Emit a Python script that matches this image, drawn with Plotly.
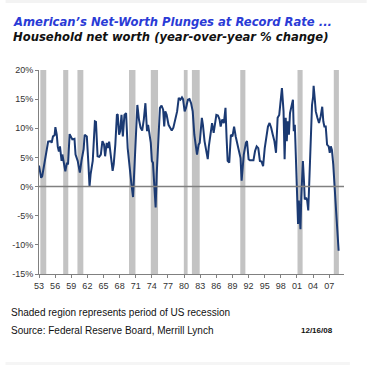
import plotly.graph_objects as go

# Household net worth, year-over-year % change
years = [1953.0, 1953.4, 1953.6, 1954.0, 1954.4, 1954.7, 1955.2, 1955.35, 1955.6, 1955.9, 1956.05, 1956.3,
         1956.5, 1956.7, 1956.9, 1957.2, 1957.35, 1957.6, 1957.9, 1958.2, 1958.4, 1958.7, 1958.95, 1959.2,
         1959.6, 1959.8, 1960.2, 1960.6, 1960.9, 1961.3, 1961.5, 1961.9, 1962.2, 1962.4, 1962.6, 1963.0,
         1963.4, 1963.6, 1963.9, 1964.2, 1964.5, 1964.8, 1965.1, 1965.3, 1965.6, 1965.8, 1966.05, 1966.3,
         1966.7, 1966.9, 1967.2, 1967.5, 1967.65, 1967.9, 1968.1, 1968.35, 1968.6, 1968.9, 1969.2, 1969.5,
         1969.8, 1970.0, 1970.2, 1970.5, 1970.7, 1970.95, 1971.3, 1971.6, 1971.9, 1972.2, 1972.5, 1972.8,
         1973.1, 1973.3, 1973.8, 1974.0, 1974.2, 1974.5, 1974.7, 1974.9, 1975.2, 1975.5, 1975.8, 1976.1,
         1976.3, 1976.5, 1976.75, 1977.1, 1977.4, 1977.7, 1978.0, 1978.4, 1978.7, 1979.0, 1979.3, 1979.6,
         1979.8, 1980.1, 1980.35, 1980.7, 1981.0, 1981.3, 1981.6, 1981.9, 1982.2, 1982.4, 1982.7, 1982.9,
         1983.3, 1983.5, 1983.8, 1984.1, 1984.4, 1984.6, 1984.9, 1985.2, 1985.5, 1985.7, 1986.0, 1986.3,
         1986.6, 1986.8, 1987.1, 1987.4, 1987.7, 1987.9, 1988.1, 1988.4, 1988.7, 1989.0, 1989.3, 1989.6,
         1989.9, 1990.2, 1990.5, 1990.7, 1990.85, 1991.1, 1991.5, 1991.7, 1992.0, 1992.25, 1992.6, 1992.9,
         1993.2, 1993.5, 1993.8, 1994.1, 1994.4, 1994.7, 1995.0, 1995.3, 1995.6, 1995.9, 1996.2, 1996.5,
         1996.8, 1997.1, 1997.4, 1997.7, 1997.9, 1998.2, 1998.5, 1998.7, 1998.9, 1999.1, 1999.3, 1999.5,
         1999.7, 2000.0, 2000.25, 2000.4, 2000.6, 2000.8, 2001.0, 2001.2, 2001.35, 2001.5, 2001.65, 2001.8,
         2002.1, 2002.3, 2002.45, 2002.7, 2002.9, 2003.1, 2003.4, 2003.55, 2003.8, 2004.0, 2004.1, 2004.3,
         2004.5, 2004.8, 2005.1, 2005.4, 2005.7, 2005.9, 2006.1, 2006.35, 2006.6, 2006.9, 2007.1, 2007.3,
         2007.5, 2007.75, 2007.9, 2008.2, 2008.4, 2008.6, 2008.75]
net_worth_yoy = [3.6, 1.5, 1.8, 3.8, 5.8, 7.7, 7.8, 7.5, 8.6, 8.8, 10.2, 8.9,
                 6.8, 6.0, 6.9, 4.4, 5.5, 3.8, 2.6, 4.1, 3.8, 9.0, 8.6, 8.1,
                 8.2, 5.5, 4.4, 2.4, 4.4, 6.4, 8.9, 8.6, 3.8, 0.0, 2.1, 4.4,
                 11.2, 11.1, 5.2, 5.1, 5.5, 7.8, 7.2, 5.2, 7.5, 6.6, 7.7, 6.1,
                 2.7, 3.8, 7.2, 12.4, 12.3, 8.9, 9.5, 12.3, 8.6, 12.3, 12.6, 6.6,
                 3.8, 1.0, 0.4, -1.8, 2.1, 6.6, 14.0, 11.5, 10.1, 9.6, 11.5, 14.3,
                 9.5, 10.6, 7.5, 4.4, 4.1, -0.5, -3.6, 2.1, 8.4, 13.5, 13.9, 13.2,
                 10.3, 12.9, 12.3, 10.6, 10.1, 9.6, 10.1, 11.8, 12.9, 15.2, 14.9, 15.3,
                 15.0, 12.9, 13.5, 14.9, 15.0, 14.3, 12.9, 8.9, 7.2, 5.5, 7.2, 7.5,
                 11.8, 10.6, 7.8, 5.8, 4.7, 6.9, 8.9, 10.9, 9.2, 10.3, 12.3, 12.2,
                 11.5, 10.3, 11.5, 10.9, 13.5, 8.4, 4.4, 4.1, 8.9, 8.6, 10.3, 8.6,
                 7.5, 6.1, 4.9, 1.0, 2.7, 5.5, 7.5, 7.8, 4.7, 4.5, 4.5, 4.5,
                 6.1, 6.9, 6.6, 4.4, 4.3, 3.5, 6.6, 8.4, 10.3, 10.9, 10.1, 8.9,
                 7.8, 5.8, 11.8, 12.3, 14.6, 16.9, 12.9, 4.7, 11.8, 7.8, 11.2, 8.9,
                 12.6, 13.7, 14.9, 9.5, 10.6, 4.9, -0.2, -6.4, -2.4, -5.9, -7.3, -1.9,
                 4.4, 1.0, -2.2, -1.9, -2.4, -4.1, 3.2, 9.5, 14.0, 15.4, 17.3, 15.2,
                 12.9, 11.8, 10.9, 12.0, 13.7, 11.2, 10.3, 10.3, 7.2, 6.9, 5.8, 6.9,
                 6.3, 3.8, 0.7, -3.0, -5.9, -8.1, -11.0]

# Recession periods (shaded)
rec_start = [1953.25, 1957.5, 1960.15, 1969.75, 1973.8, 1979.95, 1981.45, 1990.45, 2001.1, 2007.85]
rec_end = [1954.35, 1958.45, 1961.25, 1970.95, 1975.15, 1980.65, 1982.9, 1991.4, 2002.05, 2008.8]

tick_years = list(range(1953, 2008, 3))
tick_labels = ["%02d" % (y % 100) for y in tick_years]
y_ticks = [-15, -10, -5, 0, 5, 10, 15, 20]
y_labels = ["%d%%" % v for v in y_ticks]

fig = go.Figure()

shapes = []
for s, e in zip(rec_start, rec_end):
    shapes.append(dict(type="rect", xref="x", yref="y", x0=s, x1=e, y0=-15, y1=20,
                       fillcolor="#c3c3c3", line=dict(width=0), layer="below"))
# zero line
shapes.append(dict(type="line", xref="paper", yref="y", x0=0, x1=1, y0=0, y1=0,
                   line=dict(color="#808080", width=1.5), layer="above"))
# faint page bands
shapes.append(dict(type="rect", xref="paper", yref="paper", x0=-34/310, x1=333/310,
                   y0=1 + 67/204, y1=1 + 70/204, fillcolor="#f3f3f3", line=dict(width=0)))
shapes.append(dict(type="rect", xref="paper", yref="paper", x0=-34/310, x1=316/310,
                   y0=-91/204, y1=-88/204, fillcolor="#f5f5f5", line=dict(width=0)))

fig.add_trace(go.Scatter(x=years, y=net_worth_yoy, mode="lines",
                         line=dict(color="#1b3a73", width=2), hoverinfo="skip"))

fig.update_layout(
    width=384, height=374,
    margin=dict(l=34, r=40, t=70, b=100),
    paper_bgcolor="white", plot_bgcolor="white",
    showlegend=False,
    shapes=shapes,
    xaxis=dict(range=[1953, 2009.75], tickvals=tick_years, ticktext=tick_labels,
               showgrid=False, zeroline=False, showline=True, linecolor="#808080", linewidth=1,
               ticks="outside", ticklen=3, tickcolor="#808080",
               tickfont=dict(family="Liberation Sans, Arial", size=9, color="#333333")),
    yaxis=dict(range=[-15, 20], tickvals=y_ticks, ticktext=y_labels,
               showgrid=False, zeroline=False, showline=True, linecolor="#808080", linewidth=1,
               ticks="outside", ticklen=3, tickcolor="#808080",
               tickfont=dict(family="Liberation Sans, Arial", size=9, color="#333333")),
    annotations=[
        dict(text="<b><i>American\u2019s Net-Worth Plunges at Record Rate ...</i></b>",
             xref="paper", yref="paper", x=-28/310, y=1 + 48/204, xanchor="left", yanchor="middle",
             showarrow=False, font=dict(family="DejaVu Sans", size=11.6, color="#2a3bd6")),
        dict(text="<b><i>Household net worth (year-over-year % change)</i></b>",
             xref="paper", yref="paper", x=-28/310, y=1 + 33/204, xanchor="left", yanchor="middle",
             showarrow=False, font=dict(family="DejaVu Sans", size=11.6, color="#111111")),
        dict(text="Shaded region represents period of US recession",
             xref="paper", yref="paper", x=-30/310, y=-(312 - 274)/204, xanchor="left", yanchor="middle",
             showarrow=False, font=dict(family="Liberation Sans, Arial", size=10, color="#111111")),
        dict(text="Source: Federal Reserve Board, Merrill Lynch",
             xref="paper", yref="paper", x=-30/310, y=-(330 - 274)/204, xanchor="left", yanchor="middle",
             showarrow=False, font=dict(family="Liberation Sans, Arial", size=10, color="#111111")),
        dict(text="<b>12/16/08</b>",
             xref="paper", yref="paper", x=(317 - 34)/310, y=-(330 - 274)/204, xanchor="center", yanchor="middle",
             showarrow=False, font=dict(family="Liberation Sans, Arial", size=8, color="#111111")),
    ],
)

fig.write_html("out.html", config={"displayModeBar": False},
               post_script="document.body.style.margin='0px';")
